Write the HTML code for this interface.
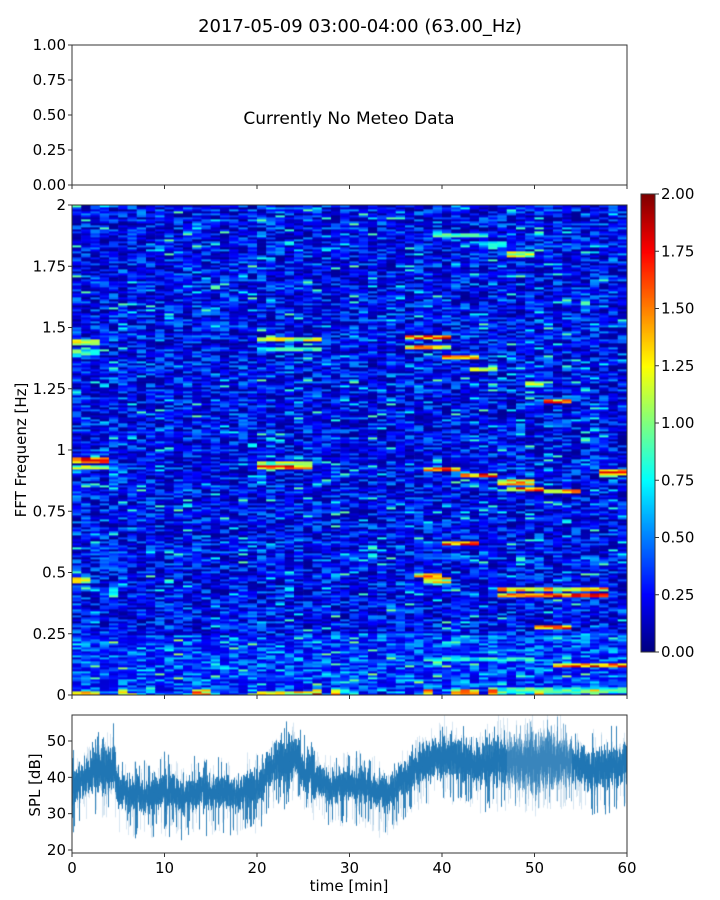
<!DOCTYPE html>
<html><head><meta charset="utf-8">
<style>
body{margin:0;background:#fff;width:720px;height:900px;position:relative;overflow:hidden;font-family:"Liberation Sans","DejaVu Sans",sans-serif;}
canvas{position:absolute;}
svg{position:absolute;left:0;top:0;}
text{font-family:"DejaVu Sans","Liberation Sans",sans-serif;fill:#000;}
</style></head>
<body>
<canvas id="spec" width="555" height="490" style="left:72px;top:205px"></canvas>
<canvas id="cbar" width="14" height="458" style="left:641px;top:194px"></canvas>
<canvas id="spl" width="555" height="138" style="left:72px;top:715px"></canvas>
<svg id="ax" width="720" height="900"></svg>
<script>
// ---------- data ----------
const specTimes = 60;
const specFreqMax = 2;
const colorMax = 2;
const featStart = [0,0,0,0,20,20,20,20,36,36,40,43,49,51,38,42,46,47,51,57,40,46,46,50,37,38,0,52,39,44,47,38,0,20,45];
const featEnd   = [3,3,4,4,27,27,26,26,41,41,44,46,51,54,42,46,50,51,55,60,44,58,58,54,40,41,2,60,45,47,50,50,3,26,60];
const featFreq  = [1.44,1.40,0.96,0.93,1.45,1.41,0.95,0.93,1.46,1.42,1.38,1.33,1.27,1.20,0.92,0.90,0.87,0.84,0.83,0.91,0.62,0.41,0.43,0.28,0.49,0.47,0.47,0.12,1.88,1.84,1.80,0.15,0.01,0.01,0.02];
const featVal   = [1.3,1.0,1.8,1.35,1.3,1.0,1.3,1.8,1.85,1.6,1.6,1.3,1.3,1.85,1.85,1.8,1.6,1.8,1.6,1.8,1.8,1.85,1.6,1.8,1.6,1.4,1.5,1.8,1.0,0.8,1.3,0.9,1.8,1.4,1.0];
const yTicksSpec = [0,0.25,0.5,0.75,1,1.25,1.5,1.75,2];
const yTickLabelsSpec = ["0","0.25","0.5","0.75","1","1.25","1.5","1.75","2"];
const cbTicks = [0,0.25,0.5,0.75,1,1.25,1.5,1.75,2];
const cbTickLabels = ["0.00","0.25","0.50","0.75","1.00","1.25","1.50","1.75","2.00"];
const meteoTicks = [0,0.25,0.5,0.75,1];
const meteoTickLabels = ["0.00","0.25","0.50","0.75","1.00"];
const splTimes  = [0,2,4,4.6,5,8,10,12,14,16,18,20,22,24,26,28,30,32,34,36,38,40,42,44,46,48,50,52,54,56,58,60];
const splMean   = [37,41,43,42,36,35,36,35,36,36,35,37,44,45,40,37,38,37,35,40,44,46,45,43,45,44,44,45,44,42,43,44];
const splSpread = [5,5,6,6,4,4,4,4,4,4,4,4,5,5,4,4,4,4,4,4,5,5,5,5,6,6,7,7,5,5,5,5];
const xTicks = [0,10,20,30,40,50,60];
const xTickLabels = ["0","10","20","30","40","50","60"];
const splTicks = [20,30,40,50];
const splTickLabels = ["20","30","40","50"];

// ---------- helpers ----------
function hash(a,b){let h=(a*374761393+b*668265263)|0;h=(h^(h>>>13))*1274126177|0;return ((h^(h>>>16))>>>0)/4294967296;}
function jet(v){v=Math.max(0,Math.min(1,v));
 const r=Math.min(1,Math.max(0,1.5-Math.abs(4*v-3))),g=Math.min(1,Math.max(0,1.5-Math.abs(4*v-2))),b=Math.min(1,Math.max(0,1.5-Math.abs(4*v-1)));
 return `rgb(${r*255|0},${g*255|0},${b*255|0})`;}
const AX={l:72,r:627};
const xS=t=>AX.l+(t/60)*(AX.r-AX.l);
const specY=f=>695-f*245;
const cbY=v=>652-v/colorMax*458;
const meteoY=v=>185-v*140;
const splY=d=>850-(d-20)*3.633;

// ---------- spectrogram ----------
(function(){
 const c=document.getElementById('spec').getContext('2d');
 const rows=245, cw=555/specTimes, rh=490/rows;
 for(let i=0;i<specTimes;i++){
  for(let j=0;j<rows;j++){
   const f=(j+0.5)/rows*specFreqMax;
   let u=hash(i,j), u2=hash(j*7+3,i*13+1);
   let v=0.04+0.5*Math.pow(u,1.6)+ (u2>0.92?0.45*u2:0);
   if(j<3) v+=0.3*hash(i,j+999)+ (hash(i,5)>0.75?0.9:0);
   else if(j<30) v+=0.12;
   for(let k=0;k<featStart.length;k++){
    if(i>=featStart[k]&&i<featEnd[k]&&Math.abs(f-featFreq[k])<0.009){
      const w=hash(i*3+k,j+77);
      v=Math.max(v,featVal[k]*(0.6+0.45*w));
    }
   }
   c.fillStyle=jet(v/colorMax);
   c.fillRect(i*cw,490-(j+1)*rh,cw+0.6,rh+0.4);
  }
 }
 const cb=document.getElementById('cbar').getContext('2d');
 for(let y=0;y<458;y++){cb.fillStyle=jet(1-y/458);cb.fillRect(0,y,14,1);}
})();

// ---------- SPL ----------
(function(){
 const c=document.getElementById('spl').getContext('2d');
 function interp(arr,t){for(let i=0;i<splTimes.length-1;i++){if(t<=splTimes[i+1]){const a=(t-splTimes[i])/(splTimes[i+1]-splTimes[i]);return arr[i]+a*(arr[i+1]-arr[i]);}}return arr[arr.length-1];}
 for(let px=0;px<555;px++){
  const t=px/555*60, m=interp(splMean,t)+3*(hash(px,999)-0.5), s=interp(splSpread,t);
  const light=(t>47&&t<54);
  for(let k=0;k<5;k++){
   const a=hash(px,k+11),b=hash(k+5,px*3);
   const lo=m-s*(0.3+0.9*a)-(b>0.88?7*b:0), hi=m+s*(0.3+0.9*b)+(a>0.9?5*a:0);
   c.strokeStyle=k<2?(light?'rgba(31,119,180,0.55)':'rgba(31,119,180,0.9)'):'rgba(31,119,180,0.18)';
   c.beginPath();c.moveTo(px+0.5,splY(lo)-715);c.lineTo(px+0.5,splY(hi)-715);c.stroke();
  }
 }
})();

// ---------- axes ----------
(function(){
 const svg=document.getElementById('ax'),NS='http://www.w3.org/2000/svg';
 function el(tag,attrs,txt){const e=document.createElementNS(NS,tag);for(const k in attrs)e.setAttribute(k,attrs[k]);if(txt!==undefined)e.textContent=txt;svg.appendChild(e);return e;}
 let e;
 e=el('text',{x:360,y:32,'text-anchor':'middle','font-size':18},'2017-05-09 03:00-04:00 (63.00_Hz)');
 
 e=el('rect',{x:72,y:45,width:555,height:140,fill:'none',stroke:'#333','stroke-width':1});
 
 meteoTicks.forEach((v,i)=>{el('line',{x1:68,x2:72,y1:meteoY(v),y2:meteoY(v),stroke:'#333'});
  e=el('text',{x:66,y:meteoY(v)+5,'text-anchor':'end','font-size':15},meteoTickLabels[i]);
  });
 xTicks.forEach(t=>{el('line',{x1:xS(t),x2:xS(t),y1:185,y2:189,stroke:'#333'});});
 e=el('text',{x:349,y:124,'text-anchor':'middle','font-size':17},'Currently No Meteo Data');
 
 e=el('rect',{x:72,y:205,width:555,height:490,fill:'none',stroke:'#333'});
 
 yTicksSpec.forEach((v,i)=>{el('line',{x1:68,x2:72,y1:specY(v),y2:specY(v),stroke:'#333'});
  e=el('text',{x:66,y:specY(v)+5,'text-anchor':'end','font-size':15},yTickLabelsSpec[i]);
  });
 xTicks.forEach(t=>{el('line',{x1:xS(t),x2:xS(t),y1:695,y2:699,stroke:'#333'});});
 e=el('text',{x:26,y:450,'text-anchor':'middle','font-size':15,transform:'rotate(-90 26 450)'},'FFT Frequenz [Hz]');
 
 el('rect',{x:641,y:194,width:14,height:458,fill:'none',stroke:'#333'});
 cbTicks.forEach((v,i)=>{el('line',{x1:655,x2:659,y1:cbY(v),y2:cbY(v),stroke:'#333'});
  e=el('text',{x:661,y:cbY(v)+5,'font-size':15},cbTickLabels[i]);
  });
 e=el('rect',{x:72,y:715,width:555,height:138,fill:'none',stroke:'#333'});
 
 splTicks.forEach((v,i)=>{el('line',{x1:68,x2:72,y1:splY(v),y2:splY(v),stroke:'#333'});
  e=el('text',{x:66,y:splY(v)+5,'text-anchor':'end','font-size':15},splTickLabels[i]);
  });
 xTicks.forEach((t,i)=>{el('line',{x1:xS(t),x2:xS(t),y1:853,y2:857,stroke:'#333'});
  e=el('text',{x:xS(t),y:873,'text-anchor':'middle','font-size':15},xTickLabels[i]);
  });
 e=el('text',{x:349,y:891,'text-anchor':'middle','font-size':15},'time [min]');
 
 e=el('text',{x:40,y:785,'text-anchor':'middle','font-size':15,transform:'rotate(-90 40 785)'},'SPL [dB]');
 
})();
</script>
</body></html>
